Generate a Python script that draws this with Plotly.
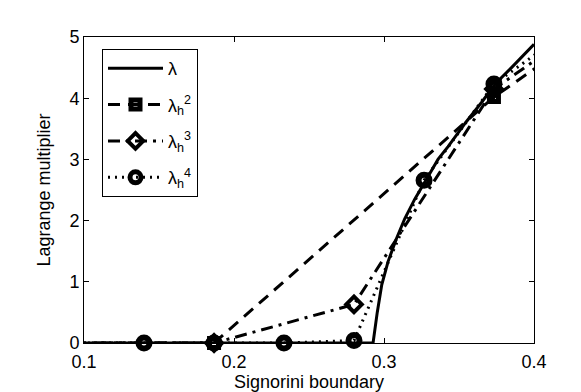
import plotly.graph_objects as go

# exact multiplier lambda (solid)
lam_x = [0.1, 0.2927, 0.2955, 0.2985, 0.3027, 0.3082, 0.3138, 0.3205, 0.3282, 0.336, 0.3427, 0.355, 0.365, 0.3744, 0.385, 0.4]
lam_y = [0.0, 0.0, 0.5, 0.95, 1.33, 1.7, 2.03, 2.35, 2.67, 3.0, 3.21, 3.62, 3.93, 4.24, 4.5, 4.88]

# lambda_h^2 (dashed, squares)
h2_x = [0.0933, 0.1867, 0.3733, 0.56]
h2_y = [0.0, 0.0, 4.02, 7.2]

# lambda_h^3 (dash-dot, diamonds)
h3_x = [0.0933, 0.1867, 0.28, 0.3733, 0.4667]
h3_y = [0.0, 0.0, 0.63, 4.15, 5.75]

# lambda_h^4 (dotted, circles)
h4_x = [0.0933, 0.14, 0.1867, 0.2333, 0.28, 0.3267, 0.3733, 0.42]
h4_y = [0.0, 0.0, 0.0, 0.0, 0.04, 2.66, 4.23, 5.05]

names = ["λ", "λ<sub>h</sub><sup>2</sup>", "λ<sub>h</sub><sup>3</sup>", "λ<sub>h</sub><sup>4</sup>"]

XMIN, XMAX = 0.1, 0.4
FONT = "Liberation Sans, Arial"
fig = go.Figure()

def add_series(xs, ys, name, dash, symbol=None, msize=0, mlw=0):
    fig.add_trace(go.Scatter(x=xs, y=ys, mode="lines", showlegend=False,
                             line=dict(color="black", width=3, dash=dash), hoverinfo="skip"))
    if symbol:
        mx = [x for x in xs if XMIN - 1e-9 <= x <= XMAX + 1e-9]
        my = [y for x, y in zip(xs, ys) if XMIN - 1e-9 <= x <= XMAX + 1e-9]
        fig.add_trace(go.Scatter(x=mx, y=my, mode="markers", showlegend=False, cliponaxis=False,
                                 marker=dict(symbol=symbol, size=msize, color="black",
                                             line=dict(color="black", width=mlw))))
    fig.add_trace(go.Scatter(x=[None], y=[None], name=name, legendgroup=name,
                             mode="lines+markers" if symbol else "lines",
                             line=dict(color="black", width=3, dash=dash),
                             marker=dict(symbol=symbol or "circle", size=msize, color="black",
                                         line=dict(color="black", width=mlw))))

add_series(lam_x, lam_y, names[0], "solid")
add_series(h2_x, h2_y, names[1], "12px,8px", "square-open", 9, 5)
add_series(h3_x, h3_y, names[2], "12px,6px,3px,6px", "diamond-open", 12, 4)
add_series(h4_x, h4_y, names[3], "2px,5px", "circle-open", 11, 6)

axis_common = dict(showgrid=False, zeroline=False, showline=True, linecolor="black", linewidth=1,
                   mirror="ticks", ticks="inside", ticklen=5, tickcolor="black",
                   tickfont=dict(family=FONT, size=18, color="black"))

fig.update_xaxes(range=[XMIN, XMAX], tickvals=[0.1, 0.2, 0.3, 0.4], ticktext=["0.1", "0.2", "0.3", "0.4"],
                 ticklabelstandoff=2,
                 title=dict(text="Signorini boundary", standoff=4,
                            font=dict(family=FONT, size=18, color="black")),
                 **axis_common)
fig.update_yaxes(range=[0, 5], tickvals=[0, 1, 2, 3, 4, 5],
                 title=dict(text="Lagrange multiplier", standoff=14,
                            font=dict(family=FONT, size=18, color="black")),
                 **axis_common)

fig.update_layout(
    width=581, height=392,
    margin=dict(l=76, r=55, t=29, b=53),
    paper_bgcolor="white", plot_bgcolor="white",
    font=dict(family=FONT, color="black"),
    legend=dict(x=0.04, y=0.961, xanchor="left", yanchor="top",
                bordercolor="black", borderwidth=1, bgcolor="white",
                font=dict(family=FONT, size=18, color="black"),
                itemwidth=55, tracegroupgap=10),
)

fig.write_html("out.html")
